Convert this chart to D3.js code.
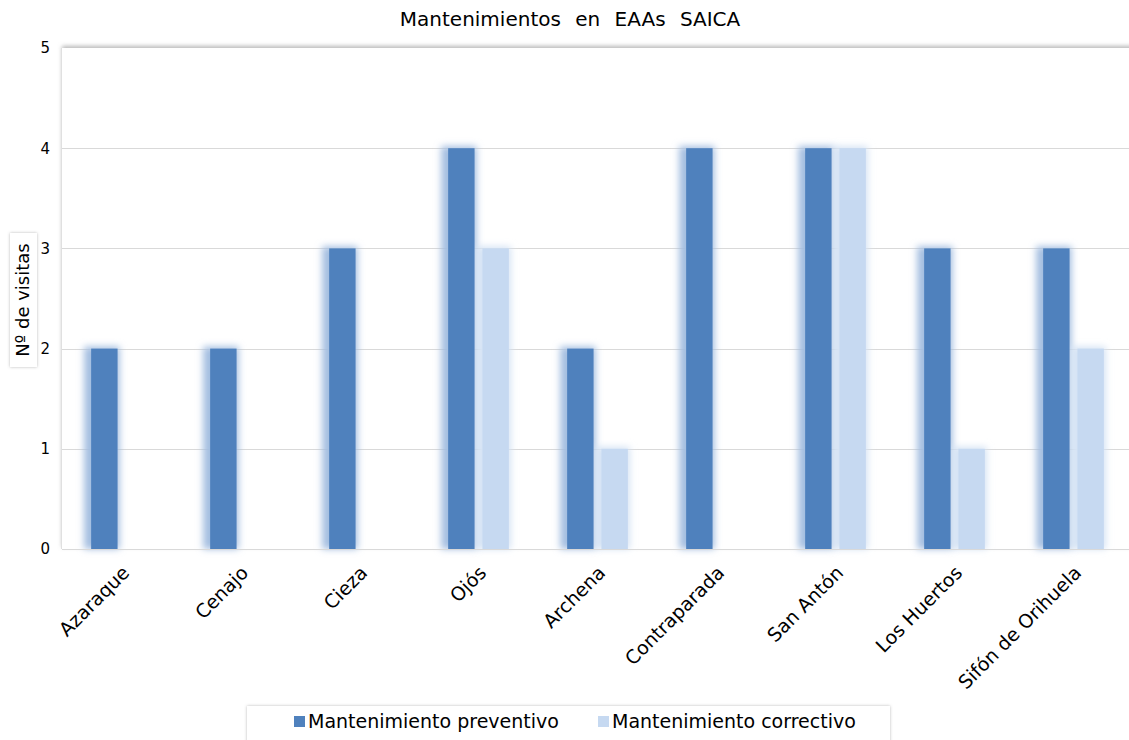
<!DOCTYPE html>
<html>
<head>
<meta charset="utf-8">
<script src="https://cdn.jsdelivr.net/npm/d3@7"></script>
<style>
	body { margin: 0; background: #fff; }
	svg { display: block; font-family: "DejaVu Sans", Verdana, sans-serif; }
</style>
</head>
<body>
<svg id="chart" width="1129" height="740"></svg>
<script>
// chart data
const categories = ['Azaraque', 'Cenajo', 'Cieza', 'Ojós', 'Archena', 'Contraparada', 'San Antón', 'Los Huertos', 'Sifón de Orihuela'];
const preventivo = [2, 2, 3, 4, 2, 4, 4, 3, 3];
const correctivo = [0, 0, 0, 3, 1, 0, 4, 1, 2];
const seriesNames = ['Mantenimiento preventivo', 'Mantenimiento correctivo'];
const seriesColors = ['#4f81bd', '#c6d9f1'];
const yTicks = [0, 1, 2, 3, 4, 5];

const svg = d3.select('#chart');
const margin = {left: 62, top: 48, right: -4, bottom: 191};
const width = 1129 - margin.left - margin.right;
const height = 740 - margin.top - margin.bottom;

const data = categories.map((c, i) => ({cat: c, values: [preventivo[i], correctivo[i]]}));

// filters for the soft shadows
const defs = svg.append('defs');
const glow = defs.append('filter').attr('id', 'glow')
	.attr('x', '-60%').attr('y', '-10%').attr('width', '220%').attr('height', '120%');
glow.append('feGaussianBlur').attr('in', 'SourceGraphic').attr('stdDeviation', 3.5);

const plotShadow = defs.append('filter').attr('id', 'plotShadow')
	.attr('x', '-5%').attr('y', '-5%').attr('width', '110%').attr('height', '110%');
plotShadow.append('feDropShadow').attr('dx', 0).attr('dy', -2).attr('stdDeviation', 2)
	.attr('flood-color', '#999').attr('flood-opacity', 0.7);

const boxShadow = defs.append('filter').attr('id', 'boxShadow')
	.attr('x', '-20%').attr('y', '-20%').attr('width', '140%').attr('height', '140%');
boxShadow.append('feDropShadow').attr('dx', 0).attr('dy', 0).attr('stdDeviation', 1.5)
	.attr('flood-color', '#888').attr('flood-opacity', 0.6);

// title
svg.append('text')
	.attr('x', 570).attr('y', 26)
	.attr('text-anchor', 'middle')
	.attr('font-size', 20)
	.attr('word-spacing', 8)
	.attr('fill', '#000')
	.text('Mantenimientos en EAAs SAICA');

const g = svg.append('g').attr('transform', `translate(${margin.left},${margin.top})`);

// scales
const x0 = d3.scaleBand().domain(categories).range([0, width]).paddingInner(0).paddingOuter(0);
const x1 = d3.scaleBand().domain([0, 1]).range([x0.bandwidth() * 0.245, x0.bandwidth() * 0.755]).paddingInner(0.23);
const y = d3.scaleLinear().domain([0, 5]).range([height, 0]);

// plot background with shadow
g.append('rect')
	.attr('x', 0).attr('y', 0)
	.attr('width', width + 10).attr('height', height)
	.attr('fill', '#fff')
	.attr('filter', 'url(#plotShadow)');
g.append('line')
	.attr('x1', -0.5).attr('x2', -0.5).attr('y1', 0).attr('y2', height)
	.attr('stroke', '#e0e0e0');

// gridlines
g.append('g')
	.selectAll('line')
	.data(yTicks.filter(d => d > 0 && d < 5))
	.join('line')
	.attr('x1', 0).attr('x2', width)
	.attr('y1', d => Math.round(y(d)) + 0.5).attr('y2', d => Math.round(y(d)) + 0.5)
	.attr('stroke', '#d9d9d9');

// y axis labels
const yAxis = d3.axisLeft(y).tickValues(yTicks).tickSize(0).tickPadding(12).tickFormat(d3.format('d'));
const gY = g.append('g').call(yAxis);
gY.select('.domain').remove();
gY.selectAll('text').attr('font-size', 15).attr('fill', '#000').attr('font-family', '"DejaVu Sans", Verdana, sans-serif');

// bars: glow first, then solid bar
const groups = g.append('g')
	.selectAll('g')
	.data(data)
	.join('g')
	.attr('transform', d => `translate(${x0(d.cat)},0)`);

const barData = d => d.values.map((v, i) => ({i, v}));

groups.selectAll('rect.glow')
	.data(d => barData(d).filter(b => b.v > 0))
	.join('rect')
	.attr('class', 'glow')
	.attr('x', d => x1(d.i) - 7)
	.attr('y', d => y(d.v) - 2)
	.attr('width', x1.bandwidth() + 9)
	.attr('height', d => y(0) - y(d.v) + 2)
	.attr('fill', d => d.i === 0 ? '#a3bde0' : '#d5e3f4')
	.attr('filter', 'url(#glow)');

groups.selectAll('rect.bar')
	.data(barData)
	.join('rect')
	.attr('class', 'bar')
	.attr('x', d => x1(d.i))
	.attr('y', d => y(d.v))
	.attr('width', x1.bandwidth())
	.attr('height', d => y(0) - y(d.v))
	.attr('fill', d => seriesColors[d.i]);

// baseline
g.append('line')
	.attr('x1', 0).attr('x2', width)
	.attr('y1', height + 0.5).attr('y2', height + 0.5)
	.attr('stroke', '#d9d9d9');

// x axis labels, rotated
const xAxis = d3.axisBottom(x0).tickSize(0).tickPadding(0);
const gX = g.append('g').attr('transform', `translate(0,${height})`).call(xAxis);
gX.select('.domain').remove();
gX.selectAll('text')
	.attr('font-size', 19)
	.attr('fill', '#000')
	.attr('font-family', '"DejaVu Sans", Verdana, sans-serif')
	.attr('text-anchor', 'end')
	.attr('dy', 0)
	.attr('transform', 'translate(9,25) rotate(-45)');

// y axis title in a small box
const yTitle = svg.append('g').attr('transform', 'translate(23,300)');
yTitle.append('rect')
	.attr('x', -13).attr('y', -67)
	.attr('width', 27).attr('height', 134)
	.attr('fill', '#fff')
	.attr('filter', 'url(#boxShadow)');
yTitle.append('text')
	.attr('transform', 'rotate(-90)')
	.attr('text-anchor', 'middle')
	.attr('dy', 6)
	.attr('font-size', 18)
	.attr('fill', '#000')
	.text('Nº de visitas');

// legend
const legend = svg.append('g').attr('transform', 'translate(247,706)');
legend.append('rect')
	.attr('x', 0).attr('y', 0)
	.attr('width', 643).attr('height', 40)
	.attr('fill', '#fff')
	.attr('filter', 'url(#boxShadow)');

const legendX = [47, 351];
const items = legend.selectAll('g.item')
	.data(seriesNames)
	.join('g')
	.attr('class', 'item')
	.attr('transform', (d, i) => `translate(${legendX[i]},0)`);
items.append('rect')
	.attr('x', 0).attr('y', 10)
	.attr('width', 11).attr('height', 11)
	.attr('fill', (d, i) => seriesColors[i]);
items.append('text')
	.attr('x', 14).attr('y', 22)
	.attr('font-size', 19)
	.attr('fill', '#000')
	.text(d => d);
</script>
</body>
</html>
